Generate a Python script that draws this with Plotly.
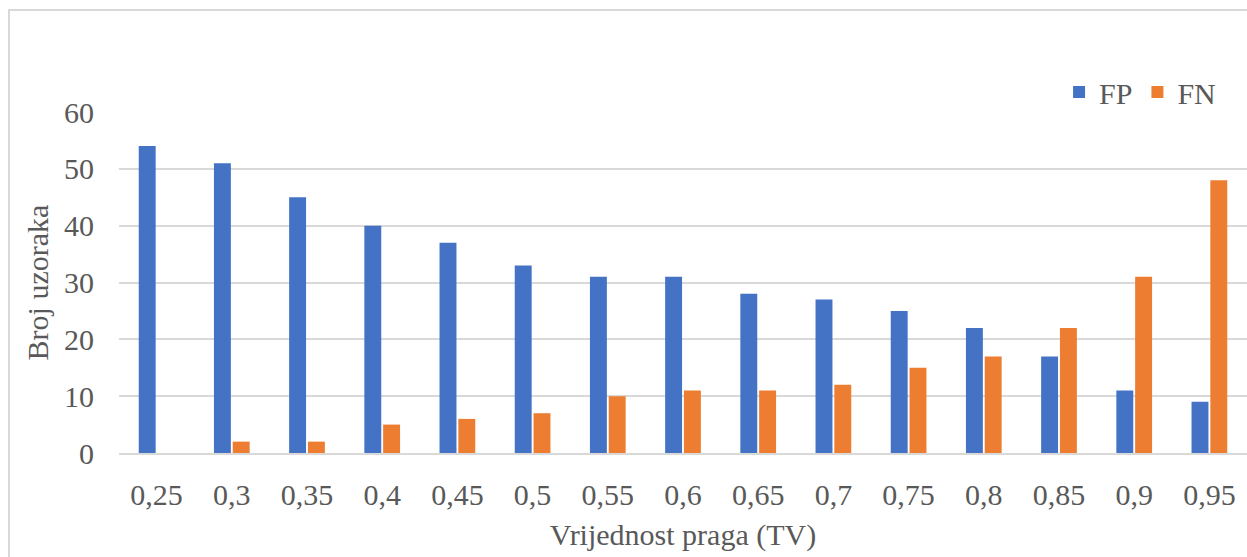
import plotly.graph_objects as go

categories = ["0,25", "0,3", "0,35", "0,4", "0,45", "0,5", "0,55", "0,6", "0,65", "0,7", "0,75", "0,8", "0,85", "0,9", "0,95"]
fp_values = [54, 51, 45, 40, 37, 33, 31, 31, 28, 27, 25, 22, 17, 11, 9]
fn_values = [0, 2, 2, 5, 6, 7, 10, 11, 11, 12, 15, 17, 22, 31, 48]
y_ticks = [0, 10, 20, 30, 40, 50, 60]

FONT = "Liberation Serif, Times New Roman, serif"
TXT = "#595959"
FS = 30

fig = go.Figure()
fig.add_trace(go.Bar(name="FP", x=categories, y=fp_values, marker=dict(color="#4472C4", line=dict(width=0))))
fig.add_trace(go.Bar(name="FN", x=categories, y=fn_values, marker=dict(color="#ED7D31", line=dict(width=0))))

L, R, T, B = 119, 0, 112, 104
W, H = 1247, 557
pw = W - L - R
ph = H - T - B

fig.update_layout(
    width=W, height=H,
    margin=dict(l=L, r=R, t=T, b=B),
    paper_bgcolor="white", plot_bgcolor="white",
    barmode="group", bargap=0.5, bargroupgap=0.1,
    font=dict(family=FONT, color=TXT, size=FS),
    showlegend=True,
    legend=dict(orientation="h", x=0.977, xanchor="right", y=1.0 + 20 / ph, yanchor="middle",
                font=dict(family=FONT, size=FS, color=TXT), itemwidth=30,
                bgcolor="rgba(0,0,0,0)", traceorder="normal"),
    xaxis=dict(title=dict(text="Vrijednost praga (TV)", font=dict(size=FS, color=TXT), standoff=14),
               showgrid=False, showline=True, linecolor="#d9d9d9", linewidth=2,
               ticks="", tickfont=dict(size=FS, color=TXT), ticklabelstandoff=14),
    yaxis=dict(title=dict(text="Broj uzoraka", font=dict(size=FS, color=TXT), standoff=6),
               range=[0, 60], tickvals=y_ticks, showgrid=True, gridcolor="#d9d9d9", gridwidth=2,
               zeroline=False, showline=False, ticks="",
               tickfont=dict(size=FS, color=TXT), ticklabelstandoff=24),
    shapes=[dict(type="rect", xref="paper", yref="paper",
                 x0=(9 - L) / pw, x1=1.2, y0=-0.5, y1=(H - B - 10) / ph,
                 line=dict(color="#d9d9d9", width=2), fillcolor="rgba(0,0,0,0)", layer="below")],
)

fig.write_html("out.html", config={"displayModeBar": False},
               post_script="document.body.style.margin='0';document.body.style.overflow='hidden';")
